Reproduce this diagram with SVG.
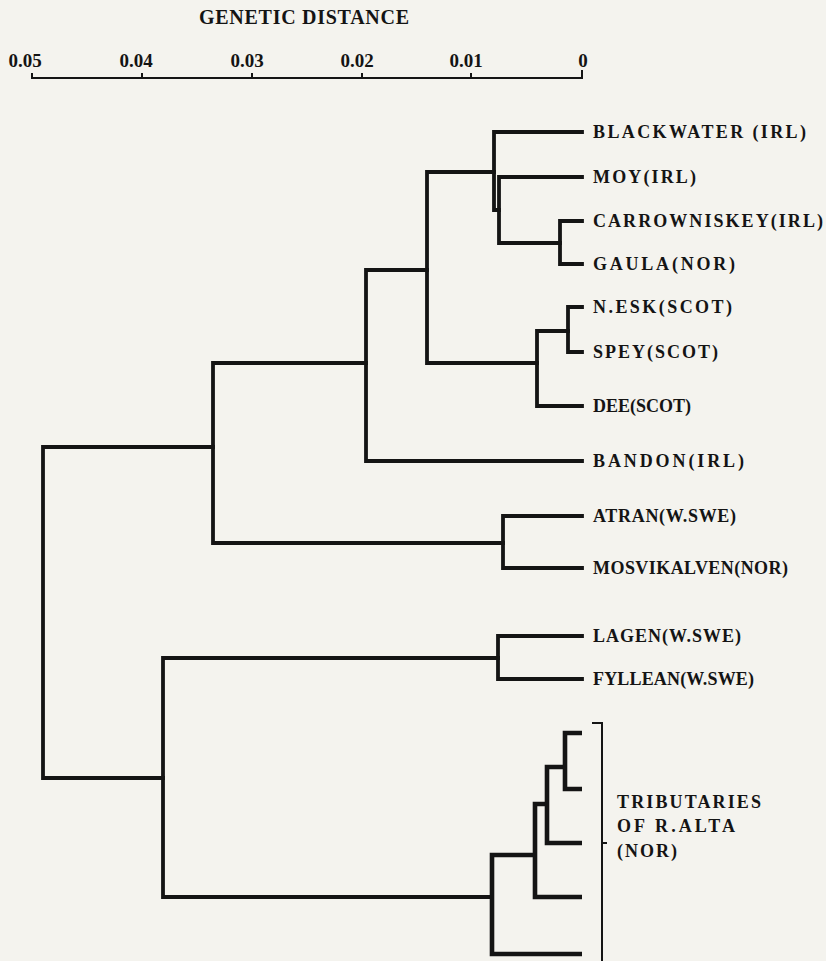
<svg xmlns="http://www.w3.org/2000/svg" width="826" height="961" viewBox="0 0 826 961">
<style>
.t{font-family:"Liberation Serif","Times New Roman",serif;font-weight:bold;fill:#141414}
.lab{font-size:18px}
.ax{font-size:19px;text-anchor:middle}
.br{fill:none;stroke:#141414;stroke-width:3.8;stroke-linejoin:miter;stroke-linecap:square}
.br2{fill:none;stroke:#141414;stroke-width:4.6;stroke-linejoin:miter;stroke-linecap:butt}
.thin{fill:none;stroke:#141414;stroke-width:2}
</style>
<rect width="826" height="961" fill="#f4f3ee"/>
<g id="axis">
<text class="t" x="199" y="24" font-size="20" textLength="210" lengthAdjust="spacing">GENETIC DISTANCE</text>
<text class="t ax" x="25" y="67">0.05</text>
<text class="t ax" x="136" y="67">0.04</text>
<text class="t ax" x="247" y="67">0.03</text>
<text class="t ax" x="357" y="67">0.02</text>
<text class="t ax" x="466" y="67">0.01</text>
<text class="t ax" x="583" y="67">0</text>
<path class="thin" stroke-width="3.2" d="M31,78 H583"/>
<path class="thin" stroke-width="2.5" d="M32,73 V78 M142,73 V78 M252,73 V78 M362,73 V78 M471,73 V78 M582,70 V78"/>
</g>
<g id="connectors">
<path class="br" d="M582,132 H494 V210 H499"/>
<path class="br" d="M582,177 H499 V243 H560"/>
<path class="br" d="M582,221 H560 V264 H582"/>
<path class="br" d="M494,172 H427 V363 H537"/>
<path class="br" d="M568,331 H537 V406 H582"/>
<path class="br" d="M582,307 H568 V352 H582"/>
<path class="br" d="M427,270 H366 V461 H582"/>
<path class="br" d="M366,363 H213 V543 H503"/>
<path class="br" d="M582,516 H503 V568 H582"/>
<path class="br" d="M213,447 H43 V778 H163"/>
<path class="br" d="M498,658 H163 V897 H492"/>
<path class="br" d="M582,636 H498 V679 H582"/>
<path class="br2" d="M535,855 H492 V954 H582"/>
<path class="br2" d="M547,804 H535 V897 H582"/>
<path class="br2" d="M565,767 H547 V843 H582"/>
<path class="br2" d="M582,733 H565 V789 H582"/>
<path class="thin" d="M592,723 H602 V961 M602,843 H607"/>
</g>
<g id="blackwater"><text class="t lab" x="593" y="138" textLength="213" lengthAdjust="spacing">BLACKWATER (IRL)</text></g>
<g id="moy"><text class="t lab" x="593" y="183" textLength="103" lengthAdjust="spacing">MOY(IRL)</text></g>
<g id="carrowniskey"><text class="t lab" x="593" y="227" textLength="230" lengthAdjust="spacing">CARROWNISKEY(IRL)</text></g>
<g id="gaula"><text class="t lab" x="593" y="270" textLength="142" lengthAdjust="spacing">GAULA(NOR)</text></g>
<g id="nesk"><text class="t lab" x="593" y="313" textLength="139" lengthAdjust="spacing">N.ESK(SCOT)</text></g>
<g id="spey"><text class="t lab" x="593" y="358" textLength="125" lengthAdjust="spacing">SPEY(SCOT)</text></g>
<g id="dee"><text class="t lab" x="593" y="412" textLength="98" lengthAdjust="spacing">DEE(SCOT)</text></g>
<g id="bandon"><text class="t lab" x="593" y="467" textLength="151" lengthAdjust="spacing">BANDON(IRL)</text></g>
<g id="atran"><text class="t lab" x="593" y="522" textLength="143" lengthAdjust="spacing">ATRAN(W.SWE)</text></g>
<g id="mosvikalven"><text class="t lab" x="593" y="574" textLength="195" lengthAdjust="spacing">MOSVIKALVEN(NOR)</text></g>
<g id="lagen"><text class="t lab" x="593" y="642" textLength="148" lengthAdjust="spacing">LAGEN(W.SWE)</text></g>
<g id="fyllean"><text class="t lab" x="593" y="685" textLength="161" lengthAdjust="spacing">FYLLEAN(W.SWE)</text></g>
<g id="alta">
<text class="t lab" x="617" y="808" textLength="144" lengthAdjust="spacing">TRIBUTARIES</text>
<text class="t lab" x="617" y="832" textLength="118" lengthAdjust="spacing">OF  R.ALTA</text>
<text class="t lab" x="617" y="857" textLength="60" lengthAdjust="spacing">(NOR)</text>
</g>
</svg>
